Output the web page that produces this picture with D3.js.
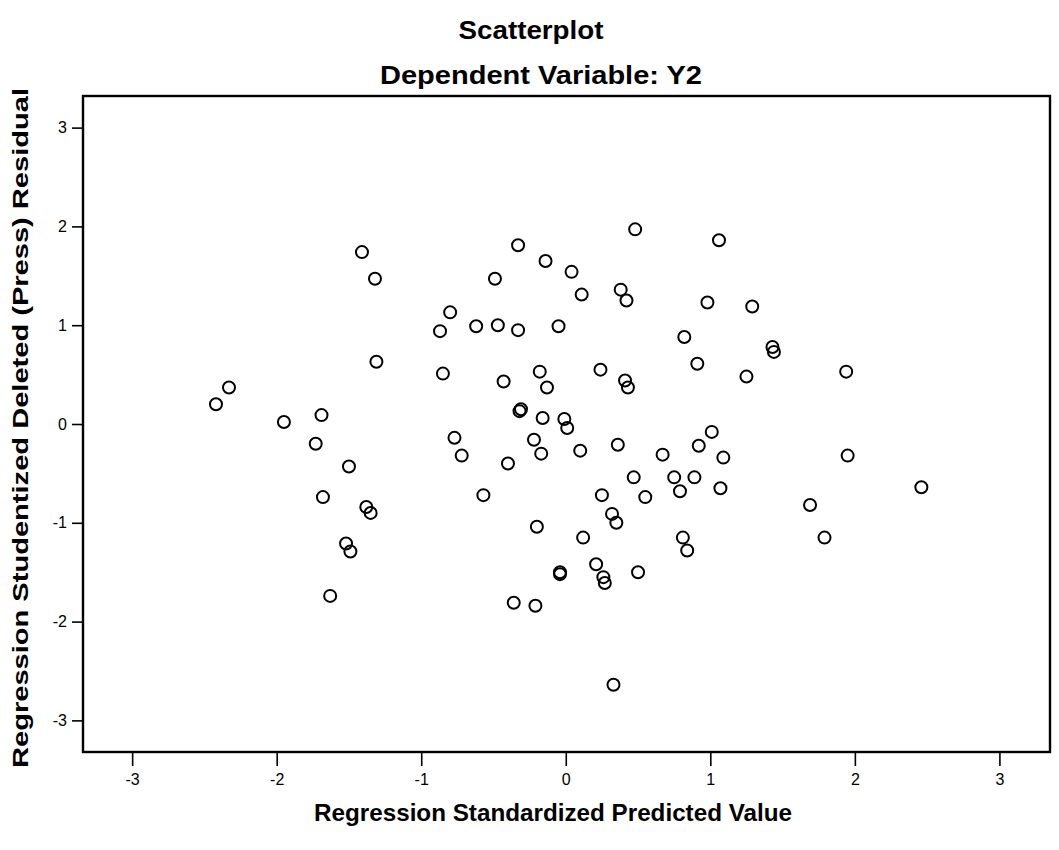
<!DOCTYPE html>
<html>
<head>
<meta charset="utf-8">
<script src="https://cdn.jsdelivr.net/npm/d3@7"></script>
<style>
  body { margin: 0; background: #fff; }
  text { font-family: "Liberation Sans", Arial, sans-serif; fill: #000; }
</style>
</head>
<body>
<svg id="chart"></svg>
<script>
// standardized predicted value (x) and studentized deleted residual (y)
const predicted = [
  -2.42, -2.33, -1.95, -1.69, -1.73, -1.68, -1.50, -1.63, -1.52, -1.49,
  -1.38, -1.35, -1.41, -1.32, -1.31,
  -0.87, -0.80, -0.85, -0.62, -0.47, -0.49, -0.33, -0.33, -0.14, 0.04,
  0.11, -0.05, 0.38, 0.42, 0.48, 1.06, 0.98, 1.29, 0.82, 0.91,
  1.43, 1.44, 1.25, 1.94, -0.43, -0.18, -0.13, 0.24, 0.41, 0.43,
  -0.32, -0.31, -0.16, -0.01, 0.01, -0.77, -0.72, -0.22, -0.17, -0.40,
  0.10, 0.36, 0.67, 1.01, 0.92, 1.09, 0.47, 0.75, 0.89, 0.79,
  1.07, -0.57, 0.25, 0.55, 0.32, 0.35, -0.20, 0.12, 0.81, 0.84,
  0.21, 0.26, 0.27, -0.04, -0.04, 0.50, -0.36, -0.21, 0.33, 1.95,
  2.46, 1.69, 1.79
];
const residual = [
  0.20, 0.37, 0.02, 0.09, -0.20, -0.74, -0.43, -1.74, -1.21, -1.29,
  -0.84, -0.90, 1.74, 1.47, 0.63,
  0.94, 1.13, 0.51, 0.99, 1.00, 1.47, 0.95, 1.81, 1.65, 1.54,
  1.31, 0.99, 1.36, 1.25, 1.97, 1.86, 1.23, 1.19, 0.88, 0.61,
  0.78, 0.73, 0.48, 0.53, 0.43, 0.53, 0.37, 0.55, 0.44, 0.37,
  0.13, 0.15, 0.06, 0.05, -0.04, -0.14, -0.32, -0.16, -0.30, -0.40,
  -0.27, -0.21, -0.31, -0.08, -0.22, -0.34, -0.54, -0.54, -0.54, -0.68,
  -0.65, -0.72, -0.72, -0.74, -0.91, -1.00, -1.04, -1.15, -1.15, -1.28,
  -1.42, -1.55, -1.61, -1.50, -1.52, -1.50, -1.81, -1.84, -2.64, -0.32,
  -0.64, -0.82, -1.15
];
const tickValues = [-3, -2, -1, 0, 1, 2, 3];
const title = "Scatterplot";
const subtitle = "Dependent Variable: Y2";
const xTitle = "Regression Standardized Predicted Value";
const yTitle = "Regression Studentized Deleted (Press) Residual";

const width = 1059, height = 850;
const padL = 83, padR = 1050, padT = 96, padB = 752;

const svg = d3.select("#chart").attr("width", width).attr("height", height);

const x = d3.scaleLinear().domain([-3.34, 3.35]).range([padL, padR]);
const y = d3.scaleLinear().domain([-3.32, 3.32]).range([padB, padT]);

// frame
svg.append("rect")
  .attr("x", padL).attr("y", padT)
  .attr("width", padR - padL).attr("height", padB - padT)
  .attr("fill", "none").attr("stroke", "#000").attr("stroke-width", 2.4);

// axes
const xAxis = svg.append("g")
  .attr("transform", `translate(0,${padB})`)
  .call(d3.axisBottom(x).tickValues(tickValues).tickSize(14).tickPadding(8).tickFormat(d => String(d)));
const yAxis = svg.append("g")
  .attr("transform", `translate(${padL},0)`)
  .call(d3.axisLeft(y).tickValues(tickValues).tickSize(11).tickPadding(5).tickFormat(d => String(d)));

[xAxis, yAxis].forEach(g => {
  g.select(".domain").remove();
  g.selectAll("line").attr("stroke", "#000").attr("stroke-width", 1.6);
  g.selectAll("text")
    .attr("font-size", 16)
    .attr("font-family", "Liberation Sans, Arial, sans-serif")
    .attr("fill", "#000");
});

// points
const pts = predicted.map((p, i) => ({ p: p, r: residual[i] }));
svg.append("g")
  .selectAll("circle")
  .data(pts)
  .join("circle")
  .attr("cx", d => x(d.p))
  .attr("cy", d => y(d.r))
  .attr("r", 6)
  .attr("fill", "none")
  .attr("stroke", "#000")
  .attr("stroke-width", 2);

// titles
function label(txt, tx, ty, size, weight, len, rot) {
  svg.append("text")
    .attr("transform", `translate(${tx},${ty})` + (rot ? " rotate(-90)" : ""))
    .attr("text-anchor", "middle")
    .attr("font-size", size)
    .attr("font-weight", weight)
    .attr("textLength", len)
    .attr("lengthAdjust", "spacingAndGlyphs")
    .text(txt);
}
label(title, 531, 39, 25, "bold", 145);
label(subtitle, 541, 84, 25, "bold", 322);
label(xTitle, 553, 821, 24, "bold", 478);
label(yTitle, 28, 428, 22, "bold", 680, true);
</script>
</body>
</html>
